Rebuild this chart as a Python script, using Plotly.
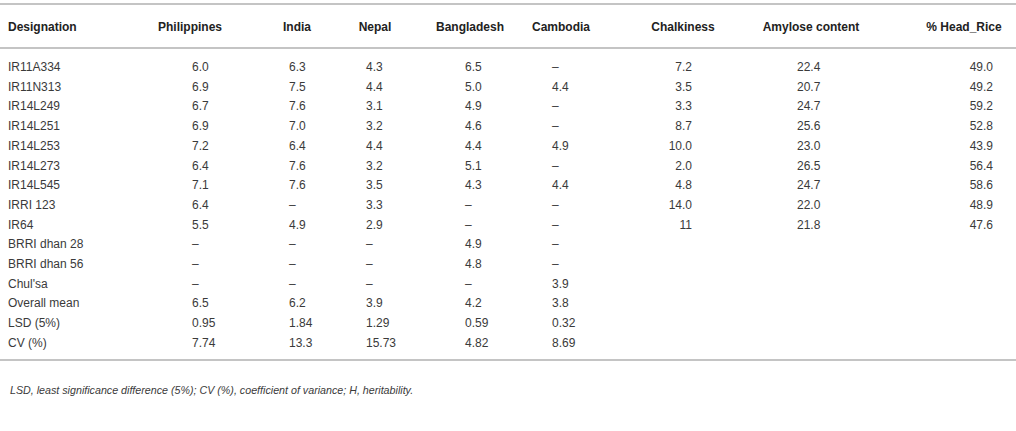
import plotly.graph_objects as go

# table content
headers = ["Designation", "Philippines", "India", "Nepal", "Bangladesh", "Cambodia",
           "Chalkiness", "Amylose content", "% Head_Rice"]
designation = ["IR11A334", "IR11N313", "IR14L249", "IR14L251", "IR14L253", "IR14L273",
               "IR14L545", "IRRI 123", "IR64", "BRRI dhan 28", "BRRI dhan 56", "Chul'sa",
               "Overall mean", "LSD (5%)", "CV (%)"]
philippines = ["6.0", "6.9", "6.7", "6.9", "7.2", "6.4", "7.1", "6.4", "5.5", "–", "–", "–",
               "6.5", "0.95", "7.74"]
india = ["6.3", "7.5", "7.6", "7.0", "6.4", "7.6", "7.6", "–", "4.9", "–", "–", "–",
         "6.2", "1.84", "13.3"]
nepal = ["4.3", "4.4", "3.1", "3.2", "4.4", "3.2", "3.5", "3.3", "2.9", "–", "–", "–",
         "3.9", "1.29", "15.73"]
bangladesh = ["6.5", "5.0", "4.9", "4.6", "4.4", "5.1", "4.3", "–", "–", "4.9", "4.8", "–",
              "4.2", "0.59", "4.82"]
cambodia = ["–", "4.4", "–", "–", "4.9", "–", "4.4", "–", "–", "–", "–", "3.9",
            "3.8", "0.32", "8.69"]
chalkiness = ["7.2", "3.5", "3.3", "8.7", "10.0", "2.0", "4.8", "14.0", "11"]
amylose = ["22.4", "20.7", "24.7", "25.6", "23.0", "26.5", "24.7", "22.0", "21.8"]
head_rice = ["49.0", "49.2", "59.2", "52.8", "43.9", "56.4", "58.6", "48.9", "47.6"]
footnote = "LSD, least significance difference (5%); CV (%), coefficient of variance; H, heritability."

columns = [designation, philippines, india, nepal, bangladesh, cambodia,
           chalkiness, amylose, head_rice]

# layout of the table (axis units = pixels)
header_x = [8, 190, 297, 375, 470, 561, 683, 811, 964]
header_pos = ["middle right"] + ["middle center"] * 8
value_x = [8, 192, 289, 366, 465, 552, 692, 797, 993]
value_pos = ["middle right"] * 6 + ["middle left", "middle right", "middle left"]
header_y = 28
row0_y = 68
row_step = 19.7
line_ys = [4, 48, 360]

font_fam = "Liberation Sans, Arial, sans-serif"
text_col = "#3a3a3a"
line_col = "#c4c4c4"

fig = go.Figure()

fig.add_trace(go.Scatter(
    x=header_x, y=[header_y] * len(headers), mode="text", text=headers,
    textposition=header_pos,
    textfont=dict(family=font_fam, size=12, color="#222222", weight="bold"),
    hoverinfo="skip", showlegend=False))

for col, x, pos in zip(columns, value_x, value_pos):
    ys = [row0_y + i * row_step for i in range(len(col))]
    fig.add_trace(go.Scatter(
        x=[x] * len(col), y=ys, mode="text", text=col, textposition=pos,
        textfont=dict(family=font_fam, size=12, color=text_col),
        hoverinfo="skip", showlegend=False))

for ly in line_ys:
    fig.add_shape(type="line", xref="x", yref="y", x0=0, x1=1016, y0=ly, y1=ly,
                  line=dict(color=line_col, width=2))

fig.add_annotation(x=8, y=390, xref="x", yref="y", text="<i>" + footnote + "</i>",
                   showarrow=False, xanchor="left", yanchor="middle",
                   font=dict(family=font_fam, size=10.7, color=text_col))

fig.update_layout(
    width=1016, height=431,
    margin=dict(l=0, r=0, t=0, b=0),
    paper_bgcolor="white", plot_bgcolor="white",
    xaxis=dict(range=[0, 1016], visible=False, fixedrange=True),
    yaxis=dict(range=[431, 0], visible=False, fixedrange=True),
)

# drop the browser's default 8px page margin so the figure fills the window
fig.write_html("out.html", config={"displayModeBar": False},
               post_script="document.body.style.margin='0';document.body.style.overflow='hidden';")
